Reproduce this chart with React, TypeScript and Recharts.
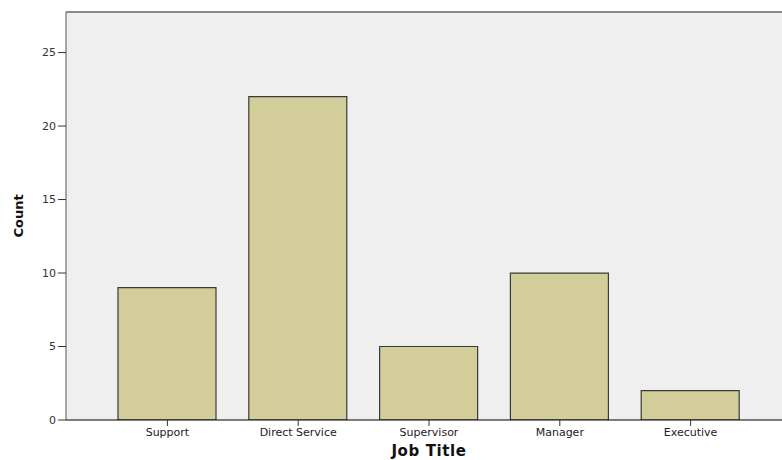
import { Bar, BarChart, CartesianGrid, ReferenceLine, XAxis, YAxis } from 'recharts';

const jobTitles = ['Support', 'Direct Service', 'Supervisor', 'Manager', 'Executive'];
const counts = [9, 22, 5, 10, 2];
const yTicks = [0, 5, 10, 15, 20, 25];
const yMax = 27.76;

const data = jobTitles.map((title, i) => ({ title, count: counts[i] }));

const font = '"DejaVu Sans", Verdana, sans-serif';

export default function App() {
  return (
    <div
      style={{
        position: 'absolute',
        left: 0,
        top: 0,
        width: 782,
        height: 460,
        overflow: 'hidden',
        background: '#fff',
        fontFamily: font,
      }}
    >
      <BarChart
        width={792}
        height={460}
        data={data}
        margin={{ top: 12, right: 0, left: 0, bottom: 0 }}
        barSize={98}
      >
        <CartesianGrid horizontal={false} vertical={false} fill="#efefef" />
        <ReferenceLine y={yMax} stroke="#8a8a8a" strokeWidth={2} ifOverflow="extendDomain" />
        <XAxis
          dataKey="title"
          height={40}
          padding={{ left: 36, right: 36 }}
          stroke="#000"
          tickSize={6}
          tickMargin={2}
          tick={{ fontSize: 11, fill: '#222', fontFamily: font }}
          tickLine={{ stroke: '#333' }}
          label={{
            value: 'Job Title',
            position: 'insideBottom',
            offset: 4,
            style: { fontSize: 15, fontWeight: 'bold', fill: '#111', fontFamily: font, letterSpacing: 0.6 },
          }}
        />
        <YAxis
          width={66}
          domain={[0, yMax]}
          ticks={yTicks}
          allowDataOverflow
          stroke="#555"
          tickSize={8}
          tickMargin={2}
          tick={{ fontSize: 11, fill: '#333', fontFamily: font }}
          tickLine={{ stroke: '#333' }}
          label={{
            value: 'Count',
            angle: -90,
            position: 'center',
            dx: -15,
            style: { fontSize: 13, fontWeight: 'bold', fill: '#111', fontFamily: font },
          }}
        />
        <Bar
          dataKey="count"
          fill="#d3ce99"
          stroke="#3a3a3a"
          strokeWidth={1.2}
          isAnimationActive={false}
        />
      </BarChart>
    </div>
  );
}
